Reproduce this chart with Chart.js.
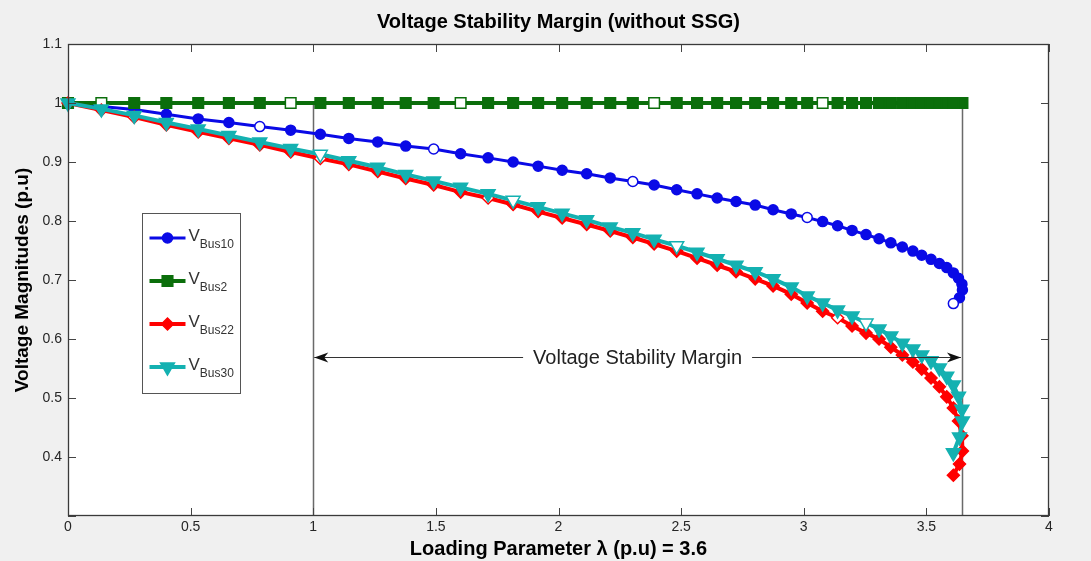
<!DOCTYPE html>
<html>
<head>
<meta charset="utf-8">
<title>Voltage Stability Margin (without SSG)</title>
<script src="https://cdn.jsdelivr.net/npm/chart.js@4.4.1/dist/chart.umd.min.js"></script>
<style>
  html, body { margin: 0; padding: 0; background: #f0f0f0; }
</style>
</head>
<body>
<canvas id="myChart" width="1091" height="561"></canvas>
<script>
// loading parameter lambda, shared by every bus (continuation steps)
const lambda = [0, 0.136, 0.270, 0.401, 0.531, 0.656, 0.782, 0.908, 1.029, 1.145,
    1.263, 1.377, 1.491, 1.601, 1.713, 1.815, 1.917, 2.015, 2.115, 2.211,
    2.303, 2.390, 2.482, 2.565, 2.647, 2.724, 2.802, 2.875, 2.949, 3.014,
    3.077, 3.138, 3.197, 3.254, 3.307, 3.355, 3.402, 3.445, 3.481, 3.519,
    3.553, 3.583, 3.610, 3.631, 3.645, 3.647, 3.635, 3.610];

const vBus10 = [1.000, 0.994, 0.989, 0.981, 0.973, 0.967, 0.960, 0.954, 0.947, 0.940,
    0.934, 0.927, 0.922, 0.914, 0.907, 0.900, 0.893, 0.886, 0.880, 0.873,
    0.867, 0.861, 0.853, 0.846, 0.839, 0.833, 0.827, 0.819, 0.812, 0.806,
    0.799, 0.792, 0.784, 0.777, 0.770, 0.763, 0.756, 0.749, 0.742, 0.735,
    0.728, 0.721, 0.712, 0.703, 0.693, 0.683, 0.670, 0.660];

const vBus2 = [1, 1, 1, 1, 1, 1, 1, 1, 1, 1,
    1, 1, 1, 1, 1, 1, 1, 1, 1, 1,
    1, 1, 1, 1, 1, 1, 1, 1, 1, 1,
    1, 1, 1, 1, 1, 1, 1, 1, 1, 1,
    1, 1, 1, 1, 1, 1, 1, 1];

const vBus22 = [1.000, 0.988, 0.976, 0.963, 0.951, 0.940, 0.929, 0.917, 0.906, 0.896,
    0.884, 0.872, 0.861, 0.849, 0.839, 0.828, 0.816, 0.805, 0.794, 0.783,
    0.772, 0.761, 0.749, 0.737, 0.725, 0.714, 0.702, 0.690, 0.676, 0.661,
    0.647, 0.636, 0.622, 0.610, 0.600, 0.586, 0.573, 0.561, 0.549, 0.534,
    0.519, 0.502, 0.483, 0.461, 0.436, 0.410, 0.388, 0.369];

const vBus30 = [1.000, 0.990, 0.979, 0.967, 0.956, 0.945, 0.934, 0.923, 0.913, 0.902,
    0.891, 0.879, 0.868, 0.857, 0.846, 0.835, 0.824, 0.813, 0.802, 0.790,
    0.780, 0.769, 0.758, 0.747, 0.736, 0.725, 0.714, 0.702, 0.688, 0.673,
    0.661, 0.649, 0.639, 0.627, 0.617, 0.605, 0.593, 0.583, 0.573, 0.563,
    0.551, 0.537, 0.522, 0.503, 0.481, 0.461, 0.434, 0.407];

const busNames = ['Bus10', 'Bus2', 'Bus22', 'Bus30'];

// markers that show up hollow in the original figure
const hollow10 = [1, 6, 12, 20, 29, 47];
const hollow2 = [1, 7, 13, 21, 30];
const hollow22 = [2, 8, 14, 31];
const hollow30 = [8, 15, 22, 33];

// margin annotation
const marginStart = 1;
const marginEnd = 3.645;
const marginTop = 1.0;
const marginLevel = 0.57;
const marginText = 'Voltage Stability Margin';

const FONT = 'Liberation Sans, Arial, Helvetica, sans-serif';
Chart.defaults.font.family = FONT;

function points(ys) {
    return lambda.map((x, i) => ({x: x, y: ys[i]}));
}

function fills(color, hollow) {
    return lambda.map((_, i) => hollow.includes(i) ? '#ffffff' : color);
}

function makeSet(name, ys, color, style, radius, lw, hollow, order, rot) {
    return {
        label: name,
        data: points(ys),
        borderColor: color,
        backgroundColor: color,
        borderWidth: lw,
        pointStyle: style,
        pointRadius: radius,
        pointRotation: rot || 0,
        pointBackgroundColor: fills(color, hollow),
        pointBorderColor: color,
        pointBorderWidth: 1.5,
        pointHoverRadius: radius,
        tension: 0,
        fill: false,
        clip: false,
        order: order
    };
}

function drawMarker(ctx, ds, x, y) {
    const opts = {pointStyle: ds.pointStyle, radius: ds.pointRadius, rotation: ds.pointRotation, borderWidth: 1.5};
    ctx.fillStyle = ds.borderColor;
    ctx.strokeStyle = ds.borderColor;
    ctx.lineWidth = 1.5;
    Chart.helpers.drawPoint(ctx, opts, x, y);
}

const extras = {
    id: 'extras',
    beforeDraw(chart) {
        const {ctx, chartArea: a} = chart;
        ctx.save();
        ctx.fillStyle = '#f0f0f0';
        ctx.fillRect(0, 0, chart.width, chart.height);
        ctx.fillStyle = '#ffffff';
        ctx.fillRect(a.left, a.top, a.right - a.left, a.bottom - a.top);
        ctx.restore();
    },
    beforeDatasetsDraw(chart) {
        const {ctx, chartArea: a, scales: {x, y}} = chart;
        ctx.save();
        ctx.strokeStyle = '#6a6a6a';
        ctx.lineWidth = 1.5;
        [marginStart, marginEnd].forEach(v => {
            const px = Math.round(x.getPixelForValue(v)) + 0.5;
            ctx.beginPath();
            ctx.moveTo(px, y.getPixelForValue(marginTop));
            ctx.lineTo(px, a.bottom);
            ctx.stroke();
        });
        ctx.restore();
    },
    afterDatasetsDraw(chart) {
        const {ctx, chartArea: a, scales: {x, y}} = chart;
        ctx.save();

        // double arrow with the label in the middle
        const x1 = x.getPixelForValue(marginStart) + 1;
        const x2 = x.getPixelForValue(marginEnd) - 1;
        const py = Math.round(y.getPixelForValue(marginLevel)) + 0.5;
        ctx.font = '20px ' + FONT;
        const tw = ctx.measureText(marginText).width;
        const cx = (x1 + x2) / 2;
        ctx.strokeStyle = '#333';
        ctx.lineWidth = 1.2;
        ctx.beginPath();
        ctx.moveTo(x1, py); ctx.lineTo(cx - tw / 2 - 10, py);
        ctx.moveTo(cx + tw / 2 + 10, py); ctx.lineTo(x2, py);
        ctx.stroke();
        ctx.fillStyle = '#111';
        [[x1, 1], [x2, -1]].forEach(([tx, d]) => {
            ctx.beginPath();
            ctx.moveTo(tx, py);
            ctx.lineTo(tx + d * 14, py - 5);
            ctx.lineTo(tx + d * 10, py);
            ctx.lineTo(tx + d * 14, py + 5);
            ctx.closePath();
            ctx.fill();
        });
        ctx.fillStyle = '#222';
        ctx.textAlign = 'center';
        ctx.textBaseline = 'middle';
        ctx.fillText(marginText, cx, py + 1);

        // legend box inside the axes
        const bx = Math.round(a.left + 74) + 0.5, by = Math.round(a.top + 169) + 0.5;
        const bw = 98, bh = 180;
        ctx.fillStyle = '#ffffff';
        ctx.fillRect(bx, by, bw, bh);
        ctx.strokeStyle = '#555';
        ctx.lineWidth = 1;
        ctx.strokeRect(bx, by, bw, bh);
        chart.data.datasets.forEach((ds, i) => {
            const ly = by + 24.5 + i * 43;
            ctx.strokeStyle = ds.borderColor;
            ctx.lineWidth = ds.borderWidth;
            ctx.beginPath();
            ctx.moveTo(bx + 7, ly); ctx.lineTo(bx + 43, ly);
            ctx.stroke();
            drawMarker(ctx, ds, bx + 25, ly);
            ctx.fillStyle = '#333';
            ctx.textAlign = 'left';
            ctx.textBaseline = 'alphabetic';
            ctx.font = '17px ' + FONT;
            ctx.fillText('V', bx + 46, ly + 3);
            const vw = ctx.measureText('V').width;
            ctx.font = '12px ' + FONT;
            ctx.fillText(busNames[i], bx + 46 + vw, ly + 10);
        });
        ctx.restore();
    },
    afterDraw(chart) {
        const {ctx, chartArea: a, scales: {x, y}} = chart;
        const tl = 8;
        ctx.save();
        ctx.strokeStyle = '#444';
        ctx.lineWidth = 1;
        ctx.beginPath();
        x.ticks.forEach(t => {
            const px = Math.round(x.getPixelForValue(t.value)) + 0.5;
            ctx.moveTo(px, a.bottom); ctx.lineTo(px, a.bottom - tl);
            ctx.moveTo(px, a.top); ctx.lineTo(px, a.top + tl);
        });
        y.ticks.forEach(t => {
            const py = Math.round(y.getPixelForValue(t.value)) + 0.5;
            ctx.moveTo(a.left, py); ctx.lineTo(a.left + tl, py);
            ctx.moveTo(a.right, py); ctx.lineTo(a.right - tl, py);
        });
        ctx.stroke();
        ctx.strokeStyle = '#3a3a3a';
        ctx.lineWidth = 1.3;
        ctx.strokeRect(Math.round(a.left) + 0.5, Math.round(a.top) + 0.5,
            Math.round(a.right - a.left) - 1, Math.round(a.bottom - a.top) - 1);
        ctx.restore();
    }
};

const tickFont = {family: FONT, size: 14};
const fmt = v => String(Number(v.toFixed(1)));

const ctx = document.getElementById('myChart').getContext('2d');
const myChart = new Chart(ctx, {
    type: 'line',
    data: {
        datasets: [
            makeSet('VBus10', vBus10, '#0a0ae6', 'circle', 5, 3, hollow10, 3),
            makeSet('VBus2', vBus2, '#0b6e0b', 'rect', 7.5, 4, hollow2, 2),
            makeSet('VBus22', vBus22, '#ff0000', 'rectRot', 6, 4, hollow22, 1),
            makeSet('VBus30', vBus30, '#14b1b1', 'triangle', 8, 4, hollow30, 0, 180)
        ]
    },
    options: {
        responsive: false,
        animation: false,
        events: [],
        layout: {padding: {left: 0, right: 42, top: 0, bottom: 0}},
        plugins: {
            legend: {display: false},
            tooltip: {enabled: false}
        },
        scales: {
            x: {
                type: 'linear',
                position: 'bottom',
                min: 0,
                max: 4,
                ticks: {stepSize: 0.5, font: tickFont, color: '#262626', padding: 3,
                    maxRotation: 0, autoSkip: false, callback: fmt},
                grid: {display: false, drawTicks: false},
                border: {display: false},
                title: {display: true, text: 'Loading Parameter λ (p.u) = 3.6',
                    font: {family: FONT, size: 20, weight: 'bold'}, color: '#000',
                    padding: {top: 0, bottom: 0}},
                afterFit: s => { s.height = 45; }
            },
            x2: {
                type: 'linear',
                position: 'top',
                min: 0,
                max: 4,
                ticks: {display: false, stepSize: 0.5},
                grid: {display: false, drawTicks: false},
                border: {display: false},
                title: {display: true, text: 'Voltage Stability Margin (without SSG)',
                    font: {family: FONT, size: 20, weight: 'bold'}, color: '#000',
                    padding: {top: 10, bottom: 0}},
                afterFit: s => { s.height = 44; }
            },
            y: {
                type: 'linear',
                min: 0.3,
                max: 1.1,
                ticks: {stepSize: 0.1, font: tickFont, color: '#262626', padding: 6,
                    callback: v => v < 0.35 ? '' : fmt(v)},
                grid: {display: false, drawTicks: false},
                border: {display: false},
                title: {display: true, text: 'Voltage Magnitudes (p.u)',
                    font: {family: FONT, size: 19, weight: 'bold'}, color: '#000',
                    padding: {top: 11, bottom: 0}},
                afterFit: s => { s.width = 68; }
            }
        }
    },
    plugins: [extras]
});
</script>
</body>
</html>
